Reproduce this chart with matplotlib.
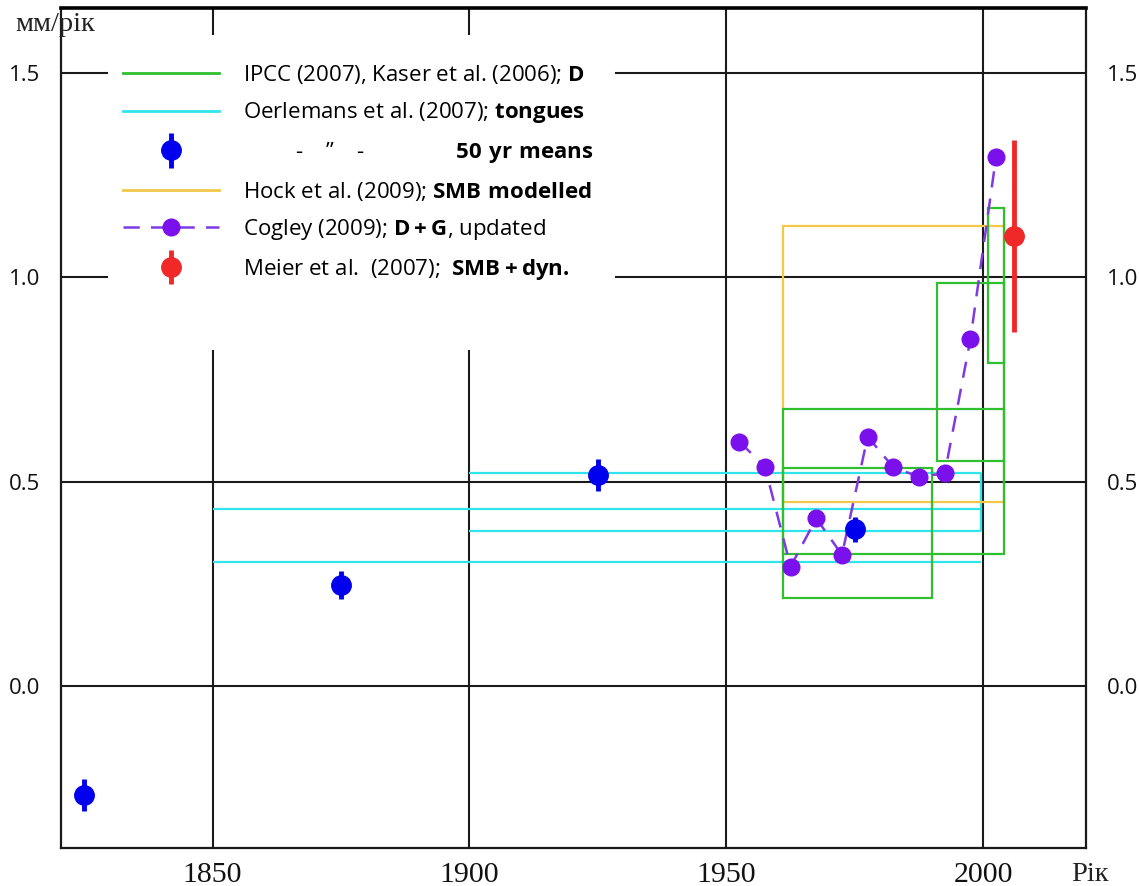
import matplotlib
matplotlib.use("Agg")
import matplotlib.pyplot as plt
from matplotlib.patches import Rectangle
from matplotlib.lines import Line2D
from matplotlib.legend_handler import HandlerErrorbar

plt.rcParams["font.family"] = ["Open Sans", "DejaVu Sans"]
plt.rcParams["mathtext.fontset"] = "custom"
plt.rcParams["mathtext.rm"] = "Open Sans"
plt.rcParams["mathtext.bf"] = "Open Sans:bold"

# Cogley (2009), D + G, pentadal means (mm/yr)
cogley_years = [1952.5, 1957.5, 1962.5, 1967.5, 1972.5, 1977.5,
                1982.5, 1987.5, 1992.5, 1997.5, 2002.5]
cogley_vals = [0.598, 0.537, 0.292, 0.410, 0.321, 0.610,
               0.535, 0.512, 0.520, 0.848, 1.295]

# Oerlemans et al. (2007), 50 yr means
means_years = [1825, 1875, 1925, 1975]
means_vals = [-0.267, 0.247, 0.516, 0.383]
means_err = [0.039, 0.035, 0.040, 0.030]

# Meier et al. (2007), SMB + dyn.
meier_years = [2006]
meier_vals = [1.10]
meier_err = [0.235]

# Oerlemans et al. (2007), tongues: period and range
tongue_start = [1850, 1900]
tongue_end = [1999.6, 1999.6]
tongue_low = [0.304, 0.380]
tongue_high = [0.432, 0.520]

# IPCC (2007), Kaser et al. (2006): period and range
ipcc_start = [1961, 1961, 1991, 2001]
ipcc_end = [1990, 2004, 2004, 2004]
ipcc_low = [0.215, 0.323, 0.551, 0.791]
ipcc_high = [0.533, 0.677, 0.985, 1.169]

# Hock et al. (2009), SMB modelled: period and range
hock_start = [1961]
hock_end = [2004]
hock_low = [0.451]
hock_high = [1.125]

x_ticks = [1850, 1900, 1950, 2000]
x_tick_labels = ["1850", "1900", "1950", "2000"]
y_ticks = [0.0, 0.5, 1.0, 1.5]
y_tick_labels = ["0.0", "0.5", "1.0", "1.5"]

GREEN = "#2fbf2f"
CYAN = "#30e4ec"
YELLOW = "#f2c848"
PURPLE = "#7a10ec"
PURPLE_LINE = "#7f3ae0"
BLUE = "#0000ee"
RED = "#f02828"

W, H = 1139, 886
fig = plt.figure(figsize=(W / 100, H / 100), dpi=100)
ax = fig.add_axes([61 / W, (H - 848.3) / H, (1086 - 61) / W, (848.3 - 8.3) / H])
ax.set_xlim(1820.5, 2020.0)
ax.set_ylim(-0.397, 1.658)

# grid
ax.set_axisbelow(True)
ax.grid(True, color="#1a1a1a", linewidth=1.5)
for s in ax.spines.values():
    s.set_color("#1a1a1a")
    s.set_linewidth(1.6)
ax.spines["top"].set_linewidth(2.6)
ax.spines["top"].set_color("black")

ax.set_xticks(x_ticks)
ax.set_xticklabels(x_tick_labels, fontfamily="Liberation Serif", fontsize=21.5)
ax.set_yticks(y_ticks)
ax.set_yticklabels(y_tick_labels, fontsize=16)
ax.tick_params(axis="both", length=0)
ax.tick_params(axis="x", pad=10, labelcolor="#111111")
ax.tick_params(axis="y", pad=15, labelright=True, labelcolor="#111111")

# white panel behind the legend
ax.add_patch(Rectangle((0.0459, 0.593), 0.4946, 0.375, transform=ax.transAxes,
                       facecolor="white", edgecolor="none", zorder=1))

# Oerlemans tongues
ax.hlines(tongue_low, tongue_start, tongue_end, color=CYAN, lw=1.6, zorder=2)
ax.hlines(tongue_high, tongue_start, tongue_end, color=CYAN, lw=1.6, zorder=2)
ax.vlines(tongue_end[1], tongue_low[1], tongue_high[1], color=CYAN, lw=1.6, zorder=2)

# IPCC / Kaser ranges
for x0, x1, lo, hi in zip(ipcc_start, ipcc_end, ipcc_low, ipcc_high):
    ax.add_patch(Rectangle((x0, lo), x1 - x0, hi - lo, fill=False,
                           edgecolor=GREEN, lw=1.6, zorder=3))

# Hock range
for x0, x1, lo, hi in zip(hock_start, hock_end, hock_low, hock_high):
    ax.add_patch(Rectangle((x0, lo), x1 - x0, hi - lo, fill=False,
                           edgecolor=YELLOW, lw=1.6, zorder=2.5))

# Cogley
cog_line, = ax.plot(cogley_years, cogley_vals, linestyle=(0, (6.5, 4.5)), color=PURPLE_LINE,
                    lw=1.8, marker="o", markersize=12, markerfacecolor=PURPLE,
                    markeredgecolor=PURPLE, zorder=5)

# 50 yr means
means = ax.errorbar(means_years, means_vals, yerr=means_err, fmt="o", color=BLUE,
                    markersize=14, elinewidth=3.5, capsize=0, zorder=6)

# Meier
meier = ax.errorbar(meier_years, meier_vals, yerr=meier_err, fmt="o", color=RED,
                    markersize=14, elinewidth=3.5, capsize=0, zorder=6)

handles = [
    Line2D([], [], color=GREEN, lw=2),
    Line2D([], [], color=CYAN, lw=2),
    means,
    Line2D([], [], color=YELLOW, lw=2),
    cog_line,
    meier,
]
labels = [
    r"IPCC (2007), Kaser et al. (2006); $\bf{D}$",
    r"Oerlemans et al. (2007); $\bf{tongues}$",
    "         -    \u201d    -                " + r"$\bf{50\ yr\ means}$",
    r"Hock et al. (2009); $\bf{SMB\ modelled}$",
    r"Cogley (2009); $\bf{D + G}$, updated",
    r"Meier et al.  (2007);  $\bf{SMB + dyn.}$",
]
err_handler = HandlerErrorbar(yerr_size=0.78, numpoints=1)
leg = ax.legend(handles, labels, loc="upper left", bbox_to_anchor=(0.0605, 0.935),
                frameon=False, borderpad=0, borderaxespad=0, fontsize=16,
                handlelength=4.3, handletextpad=1.1, labelspacing=0.655,
                numpoints=1, handler_map={means: err_handler, meier: err_handler})

fig.text(15 / W, 1 - 31 / H, "мм/рік", fontfamily="Liberation Serif", fontsize=20.5,
         va="baseline", ha="left", color="#222222")
fig.text(1071 / W, 1 - 881 / H, "Рік", fontfamily="Liberation Serif", fontsize=20.5,
         va="baseline", ha="left", color="#222222")

fig.savefig("out.png", dpi=100)
